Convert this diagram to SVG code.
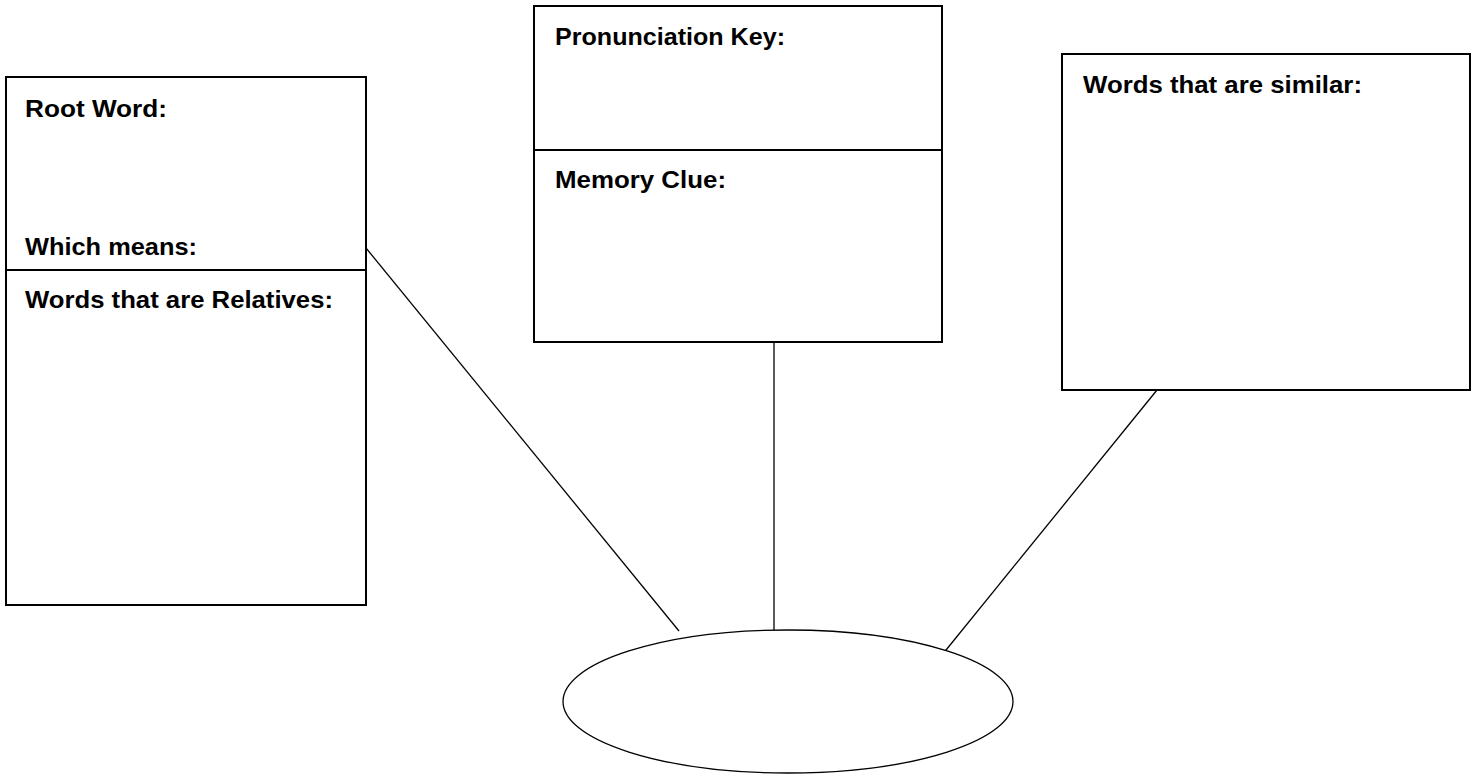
<svg xmlns="http://www.w3.org/2000/svg" width="1477" height="777" viewBox="0 0 1477 777">
<style>
.box{fill:#fff;stroke:#000;stroke-width:2}
.div{stroke:#000;stroke-width:2}
.conn{stroke:#000;stroke-width:1.3;fill:none}
.lbl{font-family:"Liberation Sans",Arial,sans-serif;font-weight:bold;font-size:24px;fill:#000}
</style>
<rect width="1477" height="777" fill="#fff"/>
<g id="connectors">
<line class="conn" x1="366" y1="248" x2="679" y2="631"/>
<line class="conn" x1="774" y1="342" x2="774" y2="630"/>
<line class="conn" x1="1157" y1="390" x2="942" y2="655"/>
</g>
<g id="root-word">
<rect class="box" x="6" y="77" width="360" height="528"/>
<line class="div" x1="6" y1="270" x2="366" y2="270"/>
<text class="lbl" x="25" y="117" textLength="142" lengthAdjust="spacingAndGlyphs">Root Word:</text>
<text class="lbl" x="25" y="255" textLength="172" lengthAdjust="spacingAndGlyphs">Which means:</text>
<text class="lbl" x="25" y="308" textLength="308" lengthAdjust="spacingAndGlyphs">Words that are Relatives:</text>
</g>
<g id="pronunciation">
<rect class="box" x="534" y="6" width="408" height="336"/>
<line class="div" x1="534" y1="150" x2="942" y2="150"/>
<text class="lbl" x="555" y="45" textLength="230" lengthAdjust="spacingAndGlyphs">Pronunciation Key:</text>
<text class="lbl" x="555" y="188" textLength="171" lengthAdjust="spacingAndGlyphs">Memory Clue:</text>
</g>
<g id="similar">
<rect class="box" x="1062" y="54" width="408" height="336"/>
<text class="lbl" x="1083" y="93" textLength="279" lengthAdjust="spacingAndGlyphs">Words that are similar:</text>
</g>
<g id="center">
<ellipse class="conn" cx="788" cy="701.5" rx="225" ry="71.5" style="fill:#fff"/>
</g>
</svg>
